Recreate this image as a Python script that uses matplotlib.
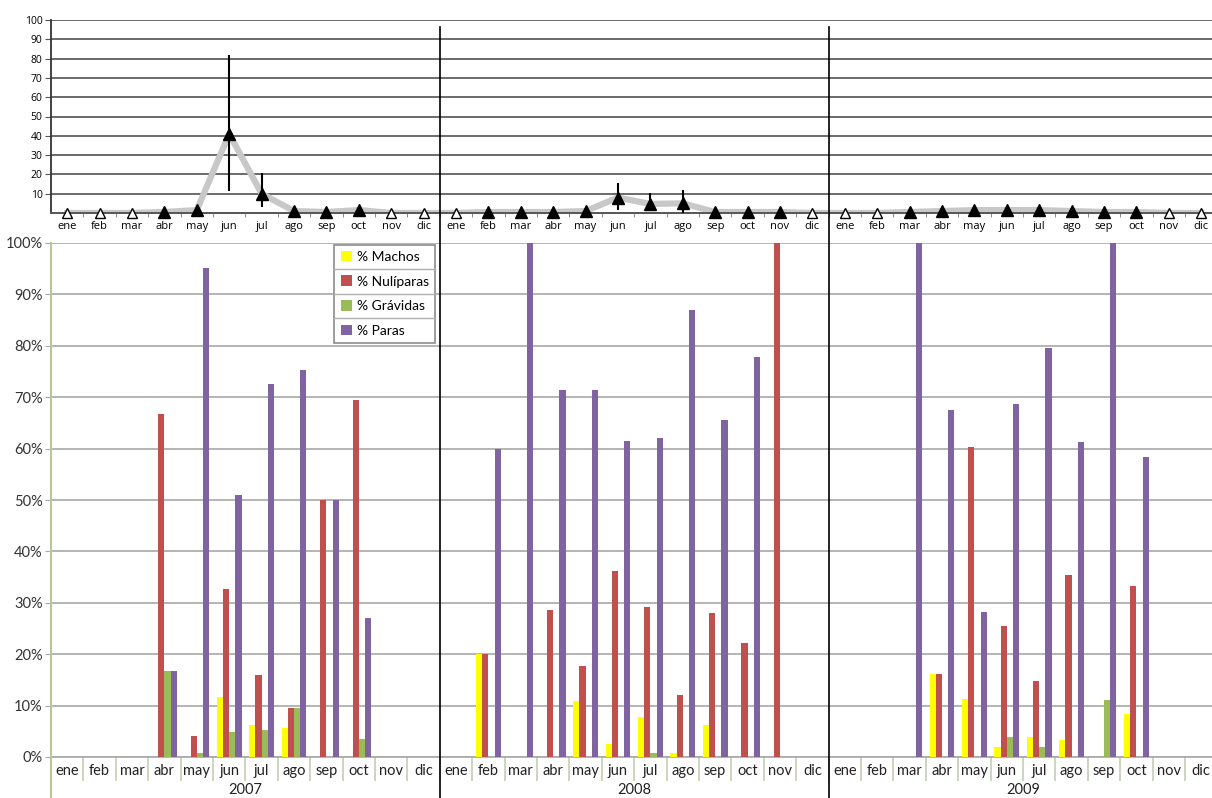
import matplotlib.pyplot as plt
import matplotlib.transforms as mtransforms
from matplotlib.lines import Line2D
import numpy as np

months = ["ene", "feb", "mar", "abr", "may", "jun", "jul", "ago", "sep", "oct", "nov", "dic"] * 3
years = ["2007", "2008", "2009"]

# top panel: monthly index with error bars (open marker = no sample)
top_values = [0, 0, 0, 0.5, 1.5, 41, 10, 1, 0.5, 1.5, 0, 0,
              0, 0.5, 0.5, 0.5, 1, 8, 4.7, 5, 0.5, 0.5, 0.5, 0,
              0, 0, 0.5, 1, 1.5, 1.5, 1.5, 1, 0.5, 0.5, 0, 0]
top_sampled = [0, 0, 0, 1, 1, 1, 1, 1, 1, 1, 0, 0,
               0, 1, 1, 1, 1, 1, 1, 1, 1, 1, 1, 0,
               0, 0, 1, 1, 1, 1, 1, 1, 1, 1, 0, 0]
err_month = [5, 6, 17, 18, 19]
err_low = [11.5, 3, 1.5, 1, 0]
err_high = [82, 20.7, 15.7, 10.2, 12]

# bottom panel: percentages per month
machos = [0, 0, 0, 0, 0, 11.7, 6.2, 5.7, 0, 0, 0, 0,
          0, 20, 0, 0, 10.8, 2.5, 7.7, 0.8, 6.3, 0, 0, 0,
          0, 0, 0, 16.2, 11.3, 2, 3.8, 3.4, 0, 8.4, 0, 0]
nuliparas = [0, 0, 0, 66.7, 4.1, 32.6, 16, 9.5, 50, 69.5, 0, 0,
             0, 20, 0, 28.6, 17.8, 36.1, 29.1, 12.1, 28.1, 22.2, 100, 0,
             0, 0, 0, 16.2, 60.4, 25.5, 14.8, 35.4, 0, 33.3, 0, 0]
gravidas = [0, 0, 0, 16.7, 0.8, 4.8, 5.2, 9.5, 0, 3.5, 0, 0,
            0, 0, 0, 0, 0, 0, 0.8, 0, 0, 0, 0, 0,
            0, 0, 0, 0, 0, 3.9, 1.9, 0, 11.1, 0, 0, 0]
paras = [0, 0, 0, 16.7, 95.1, 51, 72.6, 75.3, 50, 27, 0, 0,
         0, 60, 100, 71.4, 71.4, 61.4, 62.1, 87, 65.6, 77.8, 0, 0,
         0, 0, 100, 67.6, 28.3, 68.6, 79.6, 61.3, 100, 58.3, 0, 0]

series = [("% Machos", machos, "#ffff00"),
          ("% Nulíparas", nuliparas, "#c0504d"),
          ("% Grávidas", gravidas, "#9bbb59"),
          ("% Paras", paras, "#8064a2")]

plt.rcParams['font.family'] = ['Lato', 'DejaVu Sans']

fig = plt.figure(figsize=(12.12, 7.98), dpi=100)
left = 51 / 1212
width = 36 * 32.4 / 1212
ax_top = fig.add_axes([left, 1 - 213 / 798, width, 193 / 798])
ax = fig.add_axes([left, 1 - 757 / 798, width, 514 / 798])

x = np.arange(36)

# ---- top panel
vals = np.array(top_values, dtype=float)
ax_top.plot(x, vals, color="#c8c8c8", lw=4.5, zorder=2, solid_joinstyle="round")
lo = np.array(err_low)
hi = np.array(err_high)
ev = vals[err_month]
ax_top.errorbar(err_month, ev, yerr=[ev - lo, hi - ev], fmt="none",
                ecolor="black", elinewidth=1.5, capsize=0, zorder=3)
samp = np.array(top_sampled, dtype=bool)
ax_top.plot(x[samp], vals[samp], "^", color="black", ms=8, zorder=4, clip_on=False)
ax_top.plot(x[~samp], vals[~samp], "^", mfc="white", mec="black", mew=1.0, ms=7,
            zorder=4, clip_on=False)

ax_top.set_xlim(-0.5, 35.5)
ax_top.set_ylim(0, 100)
ax_top.set_yticks(range(10, 101, 10))
ax_top.grid(axis="y", color="#6a6a6a", lw=1.4)
ax_top.set_axisbelow(True)
ax_top.set_xticks(x)
ax_top.set_xticklabels(months, fontsize=8, family=["Open Sans", "DejaVu Sans"])
ax_top.set_xticks(np.arange(0.5, 35, 1), minor=True)
ax_top.tick_params(axis="x", which="major", length=0, pad=6)
ax_top.tick_params(axis="x", which="minor", length=3, color="#777777")
ax_top.tick_params(axis="y", length=4, color="#555555", labelsize=7.5, pad=2)
for lab in ax_top.get_yticklabels():
    lab.set_family(["Open Sans", "DejaVu Sans"])
for s in ["top", "right"]:
    ax_top.spines[s].set_visible(False)
ax_top.spines["left"].set_color("#333333")
ax_top.spines["left"].set_linewidth(1.3)
ax_top.spines["bottom"].set_color("#555555")
ax_top.spines["bottom"].set_linewidth(1.4)

# ---- bottom panel
bw = 0.19
for i, (label, data, color) in enumerate(series):
    ax.bar(x + (i - 1.5) * bw, data, width=bw, color=color, label=label, zorder=3)

ax.set_xlim(-0.5, 35.5)
ax.set_ylim(0, 100)
ax.set_yticks(range(0, 101, 10))
ax.set_yticklabels([f"{v}%" for v in range(0, 101, 10)], fontsize=10.5, color="#333333")
ax.grid(axis="y", color="#a8a8a8", lw=1.2)
ax.set_axisbelow(True)
ax.set_xticks(x)
ax.set_xticklabels(months, fontsize=10.5, color="#222222")
ax.set_xticks(np.arange(0.5, 35, 1), minor=True)
ax.tick_params(axis="x", which="major", length=0, pad=5)
ax.tick_params(axis="x", which="minor", length=17, color="#c4cfb4", width=1.2)
ax.tick_params(axis="y", length=4, color="#a8a8a8", pad=2)
for s in ["top", "right", "left"]:
    ax.spines[s].set_visible(False)
ax.spines["bottom"].set_color("#a8a8a8")
ax.spines["bottom"].set_linewidth(1.2)

for k, yr in enumerate(years):
    ax.text(12 * k + 5.5, -0.064, yr, transform=mtransforms.blended_transform_factory(ax.transData, ax.transAxes),
            ha="center", va="center", fontsize=10.5, color="#222222")

# left spine of the bar chart runs down past the labels
tr_l = mtransforms.blended_transform_factory(ax.transAxes, fig.transFigure)
fig.lines.append(Line2D([0, 0], [0, 1 - 243 / 798], transform=tr_l, color="#b6c99a", lw=1.5))

# year dividers through both panels
tr = mtransforms.blended_transform_factory(ax.transData, fig.transFigure)
for xd in [11.5, 23.5]:
    fig.lines.append(Line2D([xd, xd], [0, 1 - 27 / 798], transform=tr, color="black", lw=1.2))

# legend with cell separators
leg_tr = mtransforms.blended_transform_factory(ax.transData, ax.transAxes)
leg = ax.legend(loc="upper right", bbox_to_anchor=(11.35, 0.997), bbox_transform=leg_tr,
                fontsize=10, frameon=True, fancybox=False, edgecolor="#8c8c8c",
                handlelength=0.8, handleheight=0.8, handletextpad=0.35,
                labelspacing=0.9, borderpad=0.45, borderaxespad=0)
leg.get_frame().set_linewidth(1.2)
leg.get_frame().set_alpha(1)

fig.canvas.draw()
bb = leg.get_frame().get_window_extent().transformed(fig.transFigure.inverted())
for q in range(1, 4):
    yq = bb.y0 + bb.height * q / 4
    fig.lines.append(Line2D([bb.x0, bb.x1], [yq, yq], transform=fig.transFigure,
                            color="#b0b0b0", lw=1.0, zorder=10))

fig.savefig("out.png", dpi=100)
